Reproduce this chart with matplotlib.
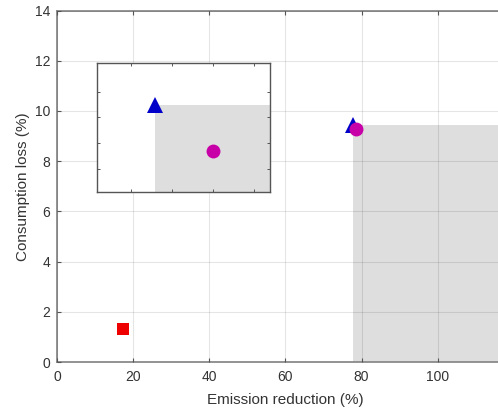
import matplotlib
matplotlib.use("Agg")
import matplotlib.pyplot as plt

plt.rcParams["font.family"] = ["Liberation Sans", "DejaVu Sans"]

# points
square_x, square_y = [17.4], [1.32]
triangle_x, triangle_y = [77.8], [9.45]
circle_x, circle_y = [78.5], [9.27]

x_ticks = [0, 20, 40, 60, 80, 100]
y_ticks = [0, 2, 4, 6, 8, 10, 12, 14]
inset_x_ticks = [77.5, 78.0, 78.5, 79.0]
inset_y_ticks = [9.2, 9.3, 9.4, 9.5]

spine_col = "#8a8a8a"
text_col = "#333333"
gray_fill = "#dedede"
blue = "#0000c8"
magenta = "#c800a8"
red = "#ee0000"


def style_axes(ax, col, lw):
	for s in ax.spines.values():
		s.set_color(col)
		s.set_linewidth(lw)


def draw_points(ax, x_right):
	# region dominated by the triangle point
	ax.fill_between([triangle_x[0], x_right], 0, triangle_y[0], color=gray_fill, lw=0, zorder=1)
	ax.plot(square_x, square_y, "s", color=red, ms=8, mew=0, zorder=3)
	ax.plot(triangle_x, triangle_y, "^", color=blue, ms=11.5, mew=0, zorder=3)
	ax.plot(circle_x, circle_y, "o", color=magenta, ms=10, mew=0, zorder=4)


fig = plt.figure(figsize=(4.98, 4.12), dpi=100)
ax = fig.add_axes([57 / 498, 50 / 412, 456.8 / 498, 351.5 / 412])
draw_points(ax, 200)
ax.set_xlim(0, 120)
ax.set_ylim(0, 14)
ax.set_xticks(x_ticks)
ax.set_yticks(y_ticks)
ax.grid(True, color="black", alpha=0.1, lw=0.8, zorder=2)
ax.set_axisbelow(False)
ax.tick_params(direction="in", length=3, width=0.8, color="#555555", labelsize=10,
	labelcolor=text_col, top=True, right=True)
ax.tick_params(axis="x", pad=6)
ax.tick_params(axis="y", pad=5)
style_axes(ax, spine_col, 1.3)
ax.set_xlabel("Emission reduction (%)", fontsize=11, color=text_col, labelpad=6)
ax.set_ylabel("Consumption loss (%)", fontsize=11, color=text_col, labelpad=3)

# zoomed inset
ins = fig.add_axes([97.3 / 498, (412 - 192.3) / 412, 172.7 / 498, 129 / 412])
draw_points(ins, 200)
ins.set_xlim(77.094, 79.195)
ins.set_ylim(9.11, 9.61)
ins.set_xticks(inset_x_ticks)
ins.set_yticks(inset_y_ticks)
ins.set_xticklabels([])
ins.set_yticklabels([])
ins.tick_params(direction="in", length=2.5, width=0.7, color="#555555",
	top=True, right=True)
style_axes(ins, "#555555", 1.0)

plt.savefig("out.png", dpi=100)
